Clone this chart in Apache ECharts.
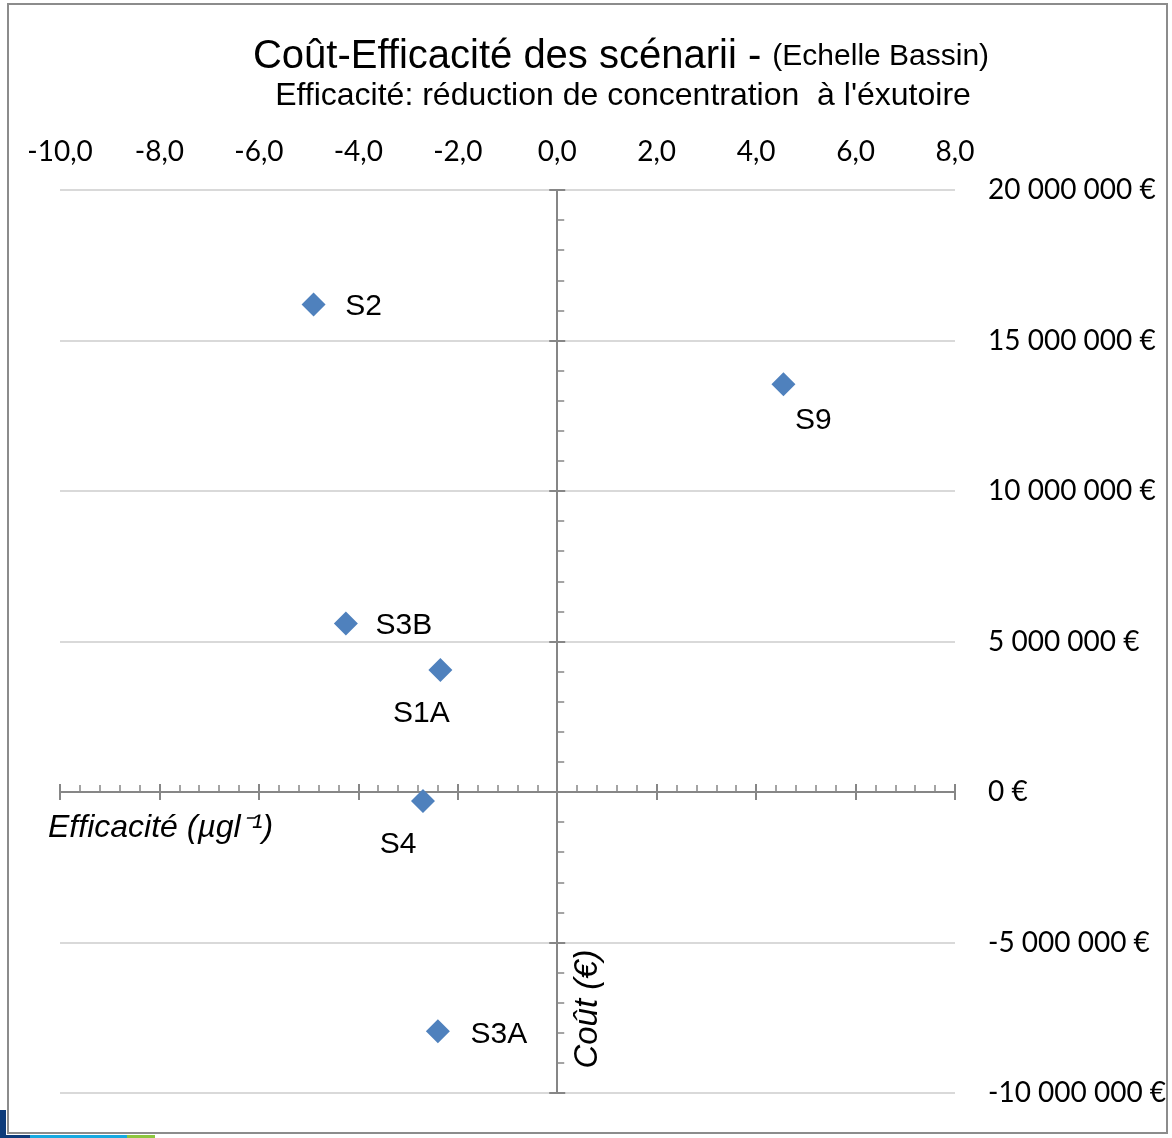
<!DOCTYPE html>
<html lang="fr">
<head>
<meta charset="UTF-8">
<title>Coût-Efficacité des scénarii</title>
<style>
    * { margin: 0; padding: 0; }
    #chart { width: 1172px; height: 1138px; background: #fff; }
</style>
<script src="https://cdn.jsdelivr.net/npm/echarts@6/dist/echarts.min.js"></script>
</head>
<body>
<div id="chart"></div>
<script>
// données
var scenarios = ['S2', 'S9', 'S3B', 'S1A', 'S4', 'S3A'];
var efficacite = [-4.9, 4.55, -4.25, -2.35, -2.7, -2.4];      // µg/l
var cout = [16200000, 13550000, 5600000, 4050000, -300000, -7950000]; // €
var xRange = [-10, 8, 2];             // min, max, pas
var yRange = [-10000000, 20000000, 5000000];

// décalage des étiquettes (style)
var labelOffsets = [[50, 2], [30, 37], [58, 2], [-19, 44], [-25, 44], [61, 3]];

var axisGrey = '#868686';
var labelFont = 'Lato, "Open Sans", sans-serif';
var arial = 'Arial, "Liberation Sans"';

function fmtX(v) { return v.toFixed(1).replace('.', ','); }
function fmtY(v) {
    var s = Math.abs(v).toString().replace(/\B(?=(\d{3})+(?!\d))/g, ' ');
    return (v < 0 ? '-' : '') + s + ' €';
}

var chart = echarts.init(document.getElementById('chart'));

var points = scenarios.map(function (n, i) {
    return {
        name: n,
        value: [efficacite[i], cout[i]],
        label: { offset: labelOffsets[i] }
    };
});

function xBase() {
    return { type: 'value', min: xRange[0], max: xRange[1], interval: xRange[2], splitLine: { show: false } };
}
function yBase() {
    return { type: 'value', min: yRange[0], max: yRange[1], interval: yRange[2], splitLine: { show: false } };
}

var option = {
    backgroundColor: '#fff',
    animation: false,
    grid: { left: 60, right: 217, top: 190, bottom: 45, containLabel: false, outerBoundsMode: 'none' },
    xAxis: [
        // étiquettes en haut
        Object.assign(xBase(), {
            position: 'top',
            axisLine: { show: false, onZero: false },
            axisTick: { show: false },
            axisLabel: { formatter: fmtX, fontSize: 28, fontFamily: labelFont, color: '#000', margin: 24 }
        }),
        // axe sur zéro, graduations vers le haut
        Object.assign(xBase(), {
            position: 'bottom',
            axisLine: { onZero: true, onZeroAxisIndex: 1, lineStyle: { color: axisGrey, width: 2 } },
            axisTick: { inside: true, length: 8, lineStyle: { color: axisGrey, width: 2 } },
            minorTick: { show: true, splitNumber: 5, length: 7, lineStyle: { color: axisGrey, width: 1.5 } },
            axisLabel: { show: false }
        }),
        // graduations majeures vers le bas
        Object.assign(xBase(), {
            position: 'bottom',
            axisLine: { onZero: true, onZeroAxisIndex: 1, lineStyle: { color: axisGrey, width: 2 } },
            axisTick: { inside: false, length: 8, lineStyle: { color: axisGrey, width: 2 } },
            axisLabel: { show: false }
        })
    ],
    yAxis: [
        Object.assign(yBase(), {
            position: 'right',
            axisLine: { show: false, onZero: false },
            axisTick: { show: false },
            splitLine: { show: true, lineStyle: { color: '#d9d9d9', width: 2 } },
            axisLabel: { formatter: fmtY, fontSize: 28, fontFamily: labelFont, color: '#000', margin: 33 }
        }),
        Object.assign(yBase(), {
            position: 'left',
            axisLine: { onZero: true, onZeroAxisIndex: 1, lineStyle: { color: axisGrey, width: 2 } },
            axisTick: { inside: true, length: 8, lineStyle: { color: axisGrey, width: 2 } },
            minorTick: { show: true, splitNumber: 5, length: 7, lineStyle: { color: axisGrey, width: 1.5 } },
            axisLabel: { show: false }
        }),
        Object.assign(yBase(), {
            position: 'left',
            axisLine: { onZero: true, onZeroAxisIndex: 1, lineStyle: { color: axisGrey, width: 2 } },
            axisTick: { inside: false, length: 8, lineStyle: { color: axisGrey, width: 2 } },
            axisLabel: { show: false }
        })
    ],
    graphic: [
        { type: 'rect', shape: { x: 8, y: 4, width: 1159, height: 1129 }, style: { fill: 'none', stroke: '#8c8c8c', lineWidth: 2 }, z: 0 },
        { type: 'rect', shape: { x: 0, y: 1110, width: 6, height: 28 }, style: { fill: '#0d3b7a' } },
        { type: 'rect', shape: { x: 0, y: 1135, width: 30, height: 3 }, style: { fill: '#0d3b7a' } },
        { type: 'rect', shape: { x: 30, y: 1135, width: 97, height: 3 }, style: { fill: '#18a9e0' } },
        { type: 'rect', shape: { x: 127, y: 1135, width: 28, height: 3 }, style: { fill: '#8dc63f' } },
        {
            type: 'text', x: 621, y: 57,
            style: {
                text: '{a|Coût-Efficacité des scénarii - }{b|(Echelle Bassin)}',
                align: 'center', verticalAlign: 'middle',
                rich: {
                    a: { fontSize: 40, fontFamily: arial, fill: '#000' },
                    b: { fontSize: 30, fontFamily: arial, fill: '#000' }
                }
            }
        },
        {
            type: 'text', x: 623, y: 96,
            style: {
                text: "Efficacité: réduction de concentration  à l'éxutoire",
                align: 'center', verticalAlign: 'middle',
                fontSize: 32, fontFamily: arial, fill: '#000'
            }
        },
        {
            type: 'text', x: 48, y: 828,
            style: {
                text: 'Efficacité (µgl⁻¹)',
                align: 'left', verticalAlign: 'middle',
                fontSize: 32, fontStyle: 'italic', fontFamily: arial, fill: '#000'
            }
        },
        {
            type: 'text', x: 588, y: 1009, rotation: Math.PI / 2,
            style: {
                text: 'Coût (€)',
                align: 'center', verticalAlign: 'middle',
                fontSize: 33, fontStyle: 'italic', fontFamily: arial, fill: '#000'
            }
        }
    ],
    series: [{
        type: 'scatter',
        xAxisIndex: 0,
        yAxisIndex: 0,
        symbol: 'diamond',
        symbolSize: 24,
        itemStyle: { color: '#4f81bd', opacity: 1 },
        label: {
            show: true,
            position: 'inside',
            formatter: '{b}',
            fontSize: 30,
            fontFamily: arial,
            color: '#000'
        },
        data: points,
        z: 5
    }]
};

chart.setOption(option);
</script>
</body>
</html>
